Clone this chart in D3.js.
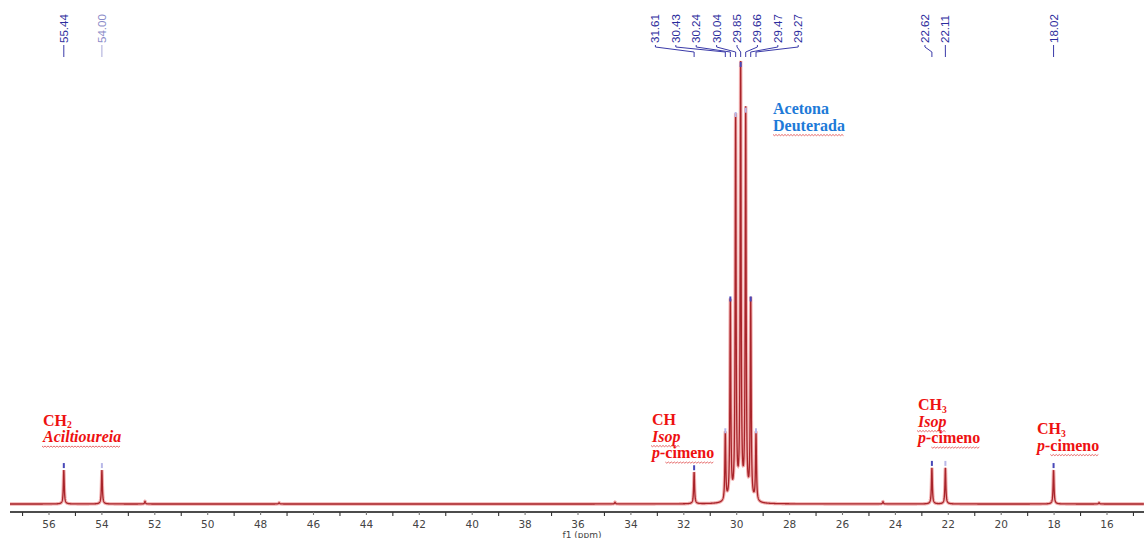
<!DOCTYPE html>
<html><head><meta charset="utf-8">
<script src="https://cdn.jsdelivr.net/npm/d3@7"></script>
<style>body{margin:0;background:#fff}svg{display:block}</style>
</head><body><svg id="c" width="1144" height="538"></svg>
<script>
// ---- data ----
const peakPpm    = [55.44, 54.00, 31.61, 30.43, 30.24, 30.04, 29.85, 29.66, 29.47, 29.27, 22.62, 22.11, 18.02];
const peakHeight = [7.8,   7.8,   7.3,   15.8,  46.1,  88.5,  100,   89.5,  46.1,  15.8,  8.3,   8.3,   7.8];
const peakLabels = ["55.44","54.00","31.61","30.43","30.24","30.04","29.85","29.66","29.47","29.27","22.62","22.11","18.02"];
const smallPpm    = [52.37, 47.3, 34.6, 24.47, 16.3];
const smallHeight = [0.6,   0.3,  0.4,  0.5,   0.3];
const tickValues  = [56, 54, 52, 50, 48, 46, 44, 42, 40, 38, 36, 34, 32, 30, 28, 26, 24, 22, 20, 18, 16];
const minorTicks  = d3.range(15, 58);
const axisTitle   = "f1 (ppm)";
const lineWidthPpm = 0.02;

// annotation texts: each line is a list of [text, italic, wavyUnderline, sub]
const annCH2   = [[["CH",0,0],["2",0,0,"sub"]], [["Aciltioureia",1,1]]];
const annCH    = [[["CH",0,0]], [["Isop",1,1]], [["p-",1,0],["cimeno",0,1]]];
const annCH3a  = [[["CH",0,0],["3",0,0,"sub"]], [["Isop",1,1]], [["p-",1,0],["cimeno",0,1]]];
const annCH3b  = [[["CH",0,0],["3",0,0,"sub"]], [["p-",1,0],["cimeno",0,1]]];
const annSolv  = [[["Acetona",0,0]], [["Deuterada",0,1]]];

// ---- layout ----
const W = 1144, H = 538;
const svg = d3.select("#c");
const x = d3.scaleLinear().domain([56, 16]).range([49, 1107]);
const y = d3.scaleLinear().domain([0, 100]).range([504, 69]);
const axisY = 512;

// spectrum
const allPpm = peakPpm.concat(smallPpm), allH = peakHeight.concat(smallHeight);
const pts = [];
for (let px = 10; px <= W; px += 0.1) {
  const p = x.invert(px);
  let s = 0;
  for (let i = 0; i < allPpm.length; i++) {
    const d = (p - allPpm[i]) / lineWidthPpm;
    s += allH[i] / (1 + d * d);
  }
  pts.push([px, s]);
}
const line = d3.line().x(d => d[0]).y(d => y(d[1]));
svg.append("path").attr("d", line(pts)).attr("fill","none").attr("stroke","#f2b0b0").attr("stroke-width",3.4);
svg.append("path").attr("d", line(pts)).attr("fill","none").attr("stroke","#a8242a").attr("stroke-width",1.3);

// peak top markers
peakPpm.forEach((p, i) => {
  svg.append("rect").attr("x", x(p) - 1).attr("y", y(peakHeight[i]) - 7).attr("width", 2).attr("height", 5)
    .attr("fill", i % 2 ? "#b8b8e8" : "#4848b8");
});

// axis
const gA = svg.append("g").attr("transform", `translate(0,${axisY})`);
gA.append("line").attr("x1", 10).attr("x2", W).attr("stroke", "#111").attr("stroke-width", 1.5);
gA.selectAll(".mt").data(minorTicks).join("line").attr("x1", d => x(d)).attr("x2", d => x(d))
  .attr("y1", 0).attr("y2", d => d % 2 ? 4 : 3).attr("stroke", d => d % 2 ? "#333" : "#777").attr("stroke-width", 1.1);
gA.selectAll(".tl").data(tickValues).join("text").attr("x", d => x(d)).attr("y", 16)
  .attr("text-anchor", "middle").attr("font-family", "DejaVu Sans, Verdana, sans-serif")
  .attr("font-size", 10.5).attr("fill", "#444").text(d => d);
svg.append("text").attr("x", 582).attr("y", 537.5).attr("text-anchor","middle")
  .attr("font-family","DejaVu Sans, Verdana, sans-serif").attr("font-size", 9).attr("fill","#444").text(axisTitle);

// peak labels with de-overlap
const gap = 20.4;
let items = peakPpm.map((p, i) => ({ t: x(p), lab: peakLabels[i] }));
items.sort((a, b) => a.t - b.t);
let groups = items.map(d => [d]);
let changed = true;
function place(g) {
  const m = d3.mean(g, d => d.t) - (g.length > 1 ? 2 + 0.75 * g.length : 0);
  g.forEach((d, k) => d.x = m + (k - (g.length - 1) / 2) * gap);
}
groups.forEach(place);
while (changed) {
  changed = false;
  for (let i = 0; i < groups.length - 1; i++) {
    const a = groups[i], b = groups[i + 1];
    if (b[0].x - a[a.length - 1].x < gap - 0.01) {
      groups.splice(i, 2, a.concat(b)); place(groups[i]); changed = true; break;
    }
  }
}
const gL = svg.append("g");
items.forEach((d, i) => {
  gL.append("text").attr("transform", `translate(${d.x},43) rotate(-90)`).attr("dy", "0.35em")
    .attr("font-family", "Liberation Sans, Arial, sans-serif").attr("font-size", 11.5)
    .attr("fill", d.lab === "54.00" ? "#8a8ac8" : "#2c2c9c").text(d.lab);
  gL.append("path").attr("d", `M${d.x},45 L${d.x},47 L${d.t},52 L${d.t},57`)
    .attr("fill", "none").attr("stroke", d.lab === "54.00" ? "#a8a8d8" : "#3a3aa8").attr("stroke-width", 1);
});

// annotations
function annotate(lines, x0, y0, color, lh, fs) {
  const g = svg.append("g");
  lines.forEach((parts, li) => {
    const t = g.append("text").attr("x", x0).attr("y", y0 + li * lh)
      .attr("font-family", "Liberation Serif, 'Times New Roman', serif").attr("font-weight", "bold")
      .attr("font-size", fs).attr("fill", color);
    parts.forEach(pt => {
      const ts = t.append("tspan").text(pt[0]).attr("font-style", pt[1] ? "italic" : "normal");
      if (pt[3] === "sub") ts.attr("font-size", fs * 0.6).attr("dy", 2.5);
      if (pt[2]) ts.classed("wv", true);
    });
    t.selectAll("tspan.wv").each(function () {
      const b = this.getBBox();
      const yy = y0 + li * lh + 4;
      let d = `M${b.x},${yy}`;
      let k = 0;
      for (let xx = b.x + 1.5; xx <= b.x + b.width; xx += 1.5) { k++; d += ` L${xx},${yy + (k % 2 ? 1.2 : 0)}`; }
      g.append("path").attr("d", d).attr("fill", "none").attr("stroke", "#e04848").attr("stroke-width", 0.8);
    });
  });
}
annotate(annCH2, 43, 425.5, "#ee1111", 16.5, 16);
annotate(annCH, 652, 425, "#ee1111", 16.5, 16);
annotate(annCH3a, 918, 410, "#ee1111", 16.5, 16);
annotate(annCH3b, 1037, 434, "#ee1111", 16.5, 16);
annotate(annSolv, 773, 114, "#1e7ad8", 16.5, 16);
</script></body></html>
